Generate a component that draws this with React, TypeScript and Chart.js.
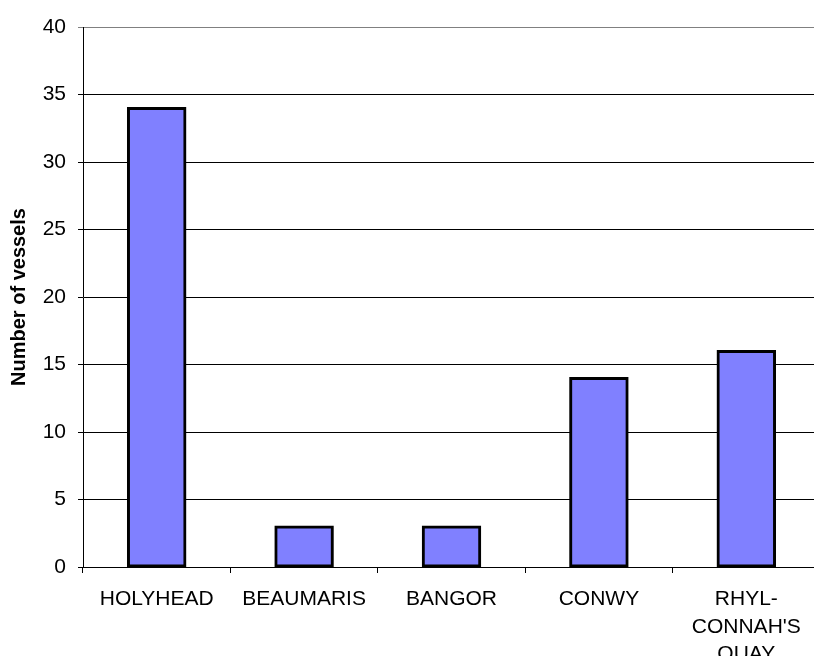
import React, { useEffect, useRef } from "react";
import { Chart, registerables } from "chart.js";

Chart.register(...registerables);

// Vessels per harbour
const ports: (string | string[])[] = [
  "HOLYHEAD",
  "BEAUMARIS",
  "BANGOR",
  "CONWY",
  ["RHYL-", "CONNAH'S", "QUAY"],
];
const vessels: number[] = [34, 3, 3, 14, 16];

const yMin = 0;
const yMax = 40;
const yStep = 5;
const yTitle = "Number of vessels";

const FONT = 'Arial, "Liberation Sans", sans-serif';

export default function App() {
  const canvasRef = useRef<HTMLCanvasElement | null>(null);

  useEffect(() => {
    const canvas = canvasRef.current;
    if (!canvas) return;
    const chart = new Chart(canvas, {
      type: "bar",
      data: {
        labels: ports,
        datasets: [
          {
            data: vessels,
            backgroundColor: "#8080FF",
            borderColor: "#000000",
            borderWidth: 3,
            borderSkipped: false,
            inflateAmount: 1,
            categoryPercentage: 1,
            barPercentage: 0.39,
          },
        ],
      },
      options: {
        responsive: false,
        animation: false,
        layout: { padding: { top: 27, right: 10, bottom: 0, left: 0 } },
        plugins: {
          legend: { display: false },
          tooltip: { enabled: false },
        },
        scales: {
          x: {
            type: "category",
            offset: true,
            grid: {
              offset: true,
              drawOnChartArea: false,
              drawTicks: true,
              tickLength: 6,
              color: "#000000",
            },
            border: { color: "#000000", width: 1 },
            ticks: {
              color: "#000000",
              font: { family: FONT, size: 21, lineHeight: 1.3 },
              padding: 13,
              maxRotation: 0,
              minRotation: 0,
              autoSkip: false,
            },
            afterFit: (scale: any) => {
              scale.height = 89;
            },
          },
          y: {
            min: yMin,
            max: yMax,
            grid: {
              // the top edge of the plot area is a lighter frame line
              color: (ctx: any) =>
                ctx.tick && ctx.tick.value === yMax ? "#808080" : "#000000",
              lineWidth: 1,
              drawTicks: true,
              tickLength: 5,
            },
            border: { color: "#000000", width: 1 },
            ticks: {
              stepSize: yStep,
              color: "#000000",
              font: { family: FONT, size: 21 },
              padding: 12,
            },
            title: {
              display: true,
              text: yTitle,
              color: "#000000",
              font: { family: FONT, size: 20, weight: "bold", lineHeight: 1.2 },
              padding: { top: 7, bottom: 0 },
            },
            afterFit: (scale: any) => {
              scale.width = 83;
            },
          },
        },
      },
    });
    return () => chart.destroy();
  }, []);

  return (
    <div
      style={{
        position: "fixed",
        left: 0,
        top: 0,
        width: 814,
        height: 656,
        overflow: "hidden",
        background: "#ffffff",
      }}
    >
      <canvas ref={canvasRef} width={830} height={656} />
    </div>
  );
}
